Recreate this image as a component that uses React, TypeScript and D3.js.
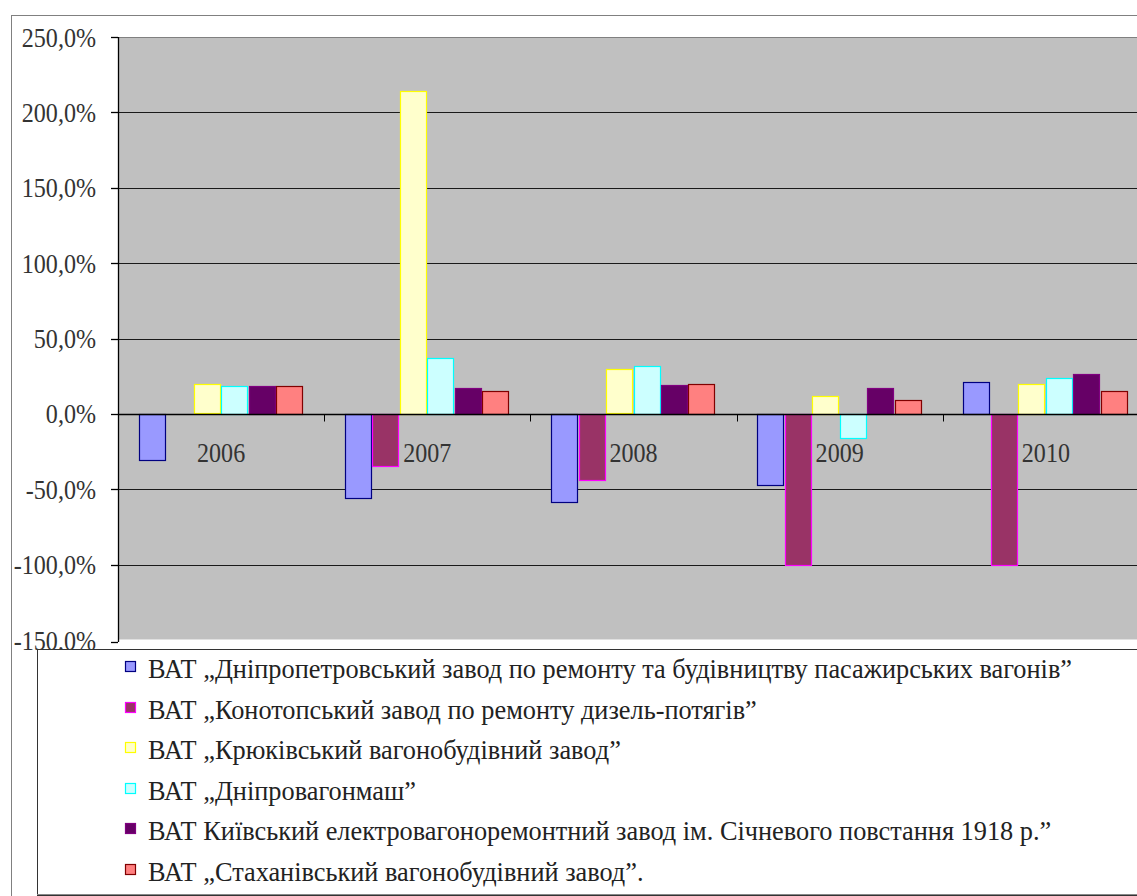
import React from 'react';
import * as d3 from 'd3';

const years = ['2006', '2007', '2008', '2009', '2010'];

const seriesNames = [
  'ВАТ „Дніпропетровський завод по ремонту та будівництву пасажирських вагонів”',
  'ВАТ „Конотопський завод по ремонту дизель-потягів”',
  'ВАТ „Крюківський вагонобудівний завод”',
  'ВАТ „Дніпровагонмаш”',
  'ВАТ Київський електровагоноремонтний завод ім. Січневого повстання 1918 р.”',
  'ВАТ „Стаханівський вагонобудівний завод”.',
];

// values in %, one array per company
const dnipropetrovsk = [-30.5, -56, -58.5, -47, 21];
const konotop = [0, -34.5, -44, -100, -100];
const kryukiv = [19.5, 214, 29.5, 12, 20];
const dniprovagonmash = [18.5, 37, 32, -16, 24];
const kyiv = [18.5, 17, 19, 17, 26.5];
const stakhaniv = [18.5, 15, 20, 9, 15];

const seriesValues = [dnipropetrovsk, konotop, kryukiv, dniprovagonmash, kyiv, stakhaniv];

const fills = ['#9999ff', '#993366', '#ffffcc', '#ccffff', '#660066', '#ff8080'];
const strokes = ['#000080', '#ff00ff', '#ffff00', '#00ffff', '#800080', '#800000'];

const yTicks = [-150, -100, -50, 0, 50, 100, 150, 200, 250];

const W = 1137;
const H = 896;
const plot = { left: 118, right: 1149, top: 37, bottom: 640 };
const FONT = "'Liberation Serif', 'Times New Roman', serif";
const SX = 0.86;
const SX_LEGEND = 0.975;

const fmt = (v: number) => `${v.toFixed(1).replace('.', ',')}%`;

const App: React.FC = () => {
  const x = d3.scaleBand<string>().domain(years).range([plot.left, plot.right]);
  const sub = d3
    .scaleBand<number>()
    .domain(d3.range(seriesValues.length))
    .range([0, x.bandwidth()])
    .paddingOuter(0.75);
  const y = d3.scaleLinear().domain([-150, 250]).range([plot.bottom, plot.top]);
  const y0 = Math.round(y(0)) + 0.5;

  const legendTop = 649;
  const rowCenter = d3.scaleLinear().domain([0, 5]).range([668, 871]);

  return (
    <svg
      width={W}
      height={H}
      style={{ position: 'absolute', left: 0, top: 0, display: 'block', background: '#fff' }}
    >
      {/* chart frame */}
      <rect x={11.5} y={15.5} width={1300} height={1000} fill="#fff" stroke="#808080" />

      {/* plot area */}
      <rect x={plot.left} y={plot.top} width={plot.right - plot.left} height={plot.bottom - plot.top} fill="#c0c0c0" />
      <line x1={plot.left} x2={plot.right} y1={plot.top + 0.5} y2={plot.top + 0.5} stroke="#808080" />
      <line x1={plot.left} x2={plot.right} y1={plot.bottom - 0.5} y2={plot.bottom - 0.5} stroke="#e0e0e0" />

      {/* gridlines */}
      {yTicks
        .filter(t => t !== 0 && t !== -150 && t !== 250)
        .map(t => (
          <line
            key={`g${t}`}
            x1={plot.left}
            x2={plot.right}
            y1={Math.round(y(t)) + 0.5}
            y2={Math.round(y(t)) + 0.5}
            stroke="#1a1a1a"
            strokeWidth={1.2}
          />
        ))}

      {/* bars */}
      {seriesValues.map((vals, si) =>
        vals.map((v, i) => {
          if (v === 0) return null;
          const bx = (x(years[i]) || 0) + (sub(si) || 0);
          const top = y(Math.max(v, 0));
          const bot = y(Math.min(v, 0));
          return (
            <rect
              key={`b${si}-${i}`}
              x={Math.round(bx) + 0.5}
              y={Math.round(top) + 0.5}
              width={Math.round(sub.bandwidth()) - 1}
              height={Math.round(bot - top)}
              fill={fills[si]}
              stroke={strokes[si]}
              strokeWidth={1.2}
            />
          );
        })
      )}

      {/* zero axis */}
      <line x1={plot.left} x2={plot.right} y1={y0} y2={y0} stroke="#000" strokeWidth={1.3} />
      {years.map(yr => {
        const bx = Math.round((x(yr) || 0) + x.bandwidth()) + 0.5;
        return <line key={`t${yr}`} x1={bx} x2={bx} y1={y0} y2={y0 + 7} stroke="#000" />;
      })}

      {/* y axis */}
      <line x1={plot.left + 0.5} x2={plot.left + 0.5} y1={plot.top} y2={plot.bottom + 2} stroke="#000" strokeWidth={1.3} />
      {yTicks.map(t => (
        <line
          key={`yt${t}`}
          x1={plot.left - 7}
          x2={plot.left}
          y1={Math.round(y(t)) + 0.5 + (t === -150 ? 2 : 0)}
          y2={Math.round(y(t)) + 0.5 + (t === -150 ? 2 : 0)}
          stroke="#000"
          strokeWidth={1.3}
        />
      ))}
      {yTicks.map(t => (
        <text
          key={`yl${t}`}
          transform={`translate(96,${y(t) + 9.5}) scale(${SX},1)`}
          textAnchor="end"
          fontFamily={FONT}
          fontSize={28}
          fill="#333"
        >
          {fmt(t)}
        </text>
      ))}

      {/* category labels */}
      {years.map(yr => (
        <text
          key={`c${yr}`}
          transform={`translate(${(x(yr) || 0) + x.bandwidth() / 2},${y0 + 47}) scale(${SX},1)`}
          textAnchor="middle"
          fontFamily={FONT}
          fontSize={28}
          fill="#333"
        >
          {yr}
        </text>
      ))}

      {/* legend */}
      <rect x={37.5} y={legendTop + 0.5} width={1300} height={895 - legendTop} fill="#fff" stroke="#333" />
      <line x1={37} x2={W} y1={894.5} y2={894.5} stroke="#888" />
      {seriesNames.map((name, i) => {
        const cy = rowCenter(i);
        return (
          <g key={`l${i}`}>
            <rect x={125.5} y={Math.round(cy) - 6.5} width={10} height={10} fill={fills[i]} stroke={strokes[i]} strokeWidth={1.2} />
            <text
              transform={`translate(148,${cy + 10}) scale(${SX_LEGEND},1)`}
              fontFamily={FONT}
              fontSize={27}
              fill="#222"
            >
              {name}
            </text>
          </g>
        );
      })}
    </svg>
  );
};

export default App;
